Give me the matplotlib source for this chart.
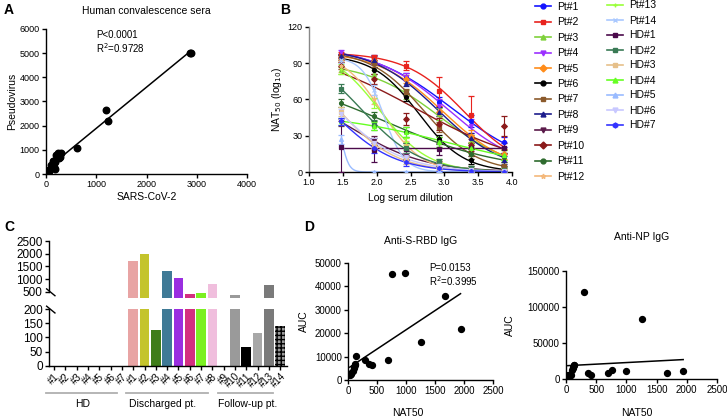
import numpy as np
import matplotlib
matplotlib.use('Agg')
import matplotlib.pyplot as plt
from matplotlib.lines import Line2D
import matplotlib.transforms as mtransforms

plt.rcParams['font.family'] = ['Liberation Sans', 'DejaVu Sans']
plt.rcParams['axes.linewidth'] = 1.0
plt.rcParams['xtick.direction'] = 'out'
plt.rcParams['ytick.direction'] = 'out'
plt.rcParams['xtick.major.size'] = 3
plt.rcParams['ytick.major.size'] = 3

# ---- panel A data: SARS-CoV-2 vs pseudovirus NAT50
sars_cov2 = [2870, 2880, 1200, 1230, 620, 300, 240, 200, 260, 180, 130, 160, 170, 100, 50, 40, 60, 30, 270, 150]
pseudovirus = [5020, 4990, 2660, 2210, 1080, 850, 870, 800, 650, 500, 520, 300, 200, 380, 150, 80, 120, 60, 720, 540]

# ---- panel B data: neutralization curves
log_dilution = [1.48, 1.96, 2.44, 2.92, 3.40, 3.88]
series_names = ['Pt#1', 'Pt#2', 'Pt#3', 'Pt#4', 'Pt#5', 'Pt#6', 'Pt#7', 'Pt#8', 'Pt#9', 'Pt#10',
                'Pt#11', 'Pt#12', 'Pt#13', 'Pt#14', 'HD#1', 'HD#2', 'HD#3', 'HD#4', 'HD#5', 'HD#6', 'HD#7']
series_means = [
    [96, 94, 79, 58, 42, 25],
    [97, 95, 88, 67, 47, 20],
    [84, 81, 64, 48, 26, 14],
    [99, 91, 79, 55, 38, 20],
    [94, 92, 77, 50, 30, 15],
    [95, 84, 62, 27, 10, 3],
    [95, 90, 66, 37, 15, 5],
    [96, 93, 74, 50, 28, 10],
    [41, 26, 13, 6, 3, 1],
    [88, 77, 44, 40, 22, 38],
    [57, 46, 33, 25, 15, 12],
    [88, 60, 22, 6, 2, 1],
    [85, 57, 25, 8, 3, 1],
    [93, 68, 10, 2, 1, 0],
    [21, 18, 19, 19, 20, 20],
    [69, 39, 20, 8, 3, 2],
    [50, 22, 10, 5, 2, 1],
    [42, 38, 33, 25, 20, 14],
    [27, 0, 0, 0, 0, 0],
    [48, 24, 12, 5, 2, 1],
    [42, 20, 8, 3, 1, 0],
]
series_errs = [
    [2, 3, 3, 4, 5, 4],
    [2, 2, 4, 12, 16, 18],
    [3, 3, 4, 5, 5, 4],
    [2, 2, 3, 5, 6, 5],
    [3, 2, 3, 4, 5, 4],
    [2, 3, 3, 4, 3, 2],
    [2, 3, 3, 4, 4, 3],
    [2, 3, 3, 4, 4, 3],
    [3, 4, 3, 3, 2, 2],
    [3, 4, 5, 5, 5, 8],
    [3, 4, 4, 4, 4, 4],
    [5, 4, 4, 3, 2, 2],
    [4, 4, 3, 3, 2, 2],
    [3, 4, 3, 2, 1, 1],
    [21, 10, 5, 5, 4, 4],
    [4, 4, 4, 3, 2, 2],
    [4, 4, 3, 3, 2, 2],
    [3, 3, 4, 4, 4, 4],
    [4, 1, 1, 1, 1, 1],
    [4, 4, 3, 2, 2, 1],
    [3, 4, 3, 2, 1, 1],
]
series_colors = ['#1414ff', '#e8231e', '#7fd13b', '#9b30ff', '#ff8c1a', '#000000', '#8b5a2b',
                 '#1c1c8c', '#5b1a4a', '#8b1a1a', '#2e6b2e', '#f4b87a', '#9aff3a', '#a9c8ff',
                 '#4b0a4b', '#3a7a55', '#e6c08a', '#66ff22', '#99bbff', '#c8c8ff', '#3333ff']
series_markers = ['o', 's', '^', 'v', 'D', 'o', 's', '^', 'v', 'D', 'o', '*', '+', 'x',
                  's', 's', 's', '^', '^', 'v', 'h']

# ---- panel C data: NAT50 bars
bar_labels = ['#1', '#2', '#3', '#4', '#5', '#6', '#7',
              '#1', '#2', '#3', '#4', '#5', '#6', '#7', '#8',
              '#9', '#10', '#11', '#12', '#13', '#14']
bar_values = [0, 0, 0, 0, 0, 0, 0,
              1720, 1985, 126, 1310, 1040, 410, 450, 810,
              0, 350, 65, 114, 760, 141]
bar_colors = ['#ffffff'] * 7 + ['#e8a4a4', '#c4c42c', '#3f7d1a', '#3f7a96', '#9a2ee0', '#d32f80',
                                '#7cf022', '#f0bedd', '#ffffff', '#9a9a9a', '#000000', '#a8a8a8',
                                '#7a7a7a', '#9a9a9a']
groups = ['HD', 'Discharged pt.', 'Follow-up pt.']

# ---- panel D data: NAT50 vs ELISA AUC
nat50 = [30, 50, 60, 80, 100, 110, 120, 125, 130, 300, 360, 410, 690, 760, 990, 1260, 1670, 1940]
auc_rbd = [2000, 2500, 3000, 4000, 5000, 5500, 6500, 7000, 10300, 8400, 6800, 6200, 8500,
           45500, 45700, 16200, 35800, 22000]
auc_np = [5500, 5500, 5500, 5500, 13000, 15000, 16000, 19000, 20000, 121000, 8000, 6000, 8000,
          12000, 10500, 83000, 8000, 10500]

W, H = 727, 419
fig = plt.figure(figsize=(W / 100, H / 100), dpi=100)


def px_axes(l, t, r, b):
    return fig.add_axes([l / W, 1 - b / H, (r - l) / W, (b - t) / H])


def style(ax, fs=6.5):
    ax.spines['top'].set_visible(False)
    ax.spines['right'].set_visible(False)
    ax.tick_params(labelsize=fs, width=1, length=3, pad=1.5)


# ================= A
axA = px_axes(46, 29, 247, 174)
style(axA)
axA.scatter(sars_cov2, pseudovirus, s=22, color='black', zorder=3)
k, b0 = np.polyfit(sars_cov2, pseudovirus, 1)
xx = np.array([min(sars_cov2), max(sars_cov2)])
axA.plot(xx, k * xx + b0, color='black', lw=1.1)
axA.set_xlim(0, 4000)
axA.set_ylim(0, 6000)
axA.set_xticks([0, 1000, 2000, 3000, 4000])
axA.set_yticks([0, 1000, 2000, 3000, 4000, 5000, 6000])
axA.set_xlabel('SARS-CoV-2', fontsize=7.5, labelpad=2)
axA.set_ylabel('Pseudovirus', fontsize=7.5, labelpad=2)
axA.set_title('Human convalescence sera', fontsize=7.5, pad=11)
axA.text(0.25, 0.99, 'P<0.0001\nR$^2$=0.9728', transform=axA.transAxes, fontsize=7,
         va='top', ha='left', linespacing=1.1)
fig.text(4 / W, 1 - 10 / H, 'A', fontsize=10, fontweight='bold', va='center')

# ================= B
axB = px_axes(309, 27, 512, 172)
style(axB)
axB.spines['left'].set_color('#888888')
xd = np.array(log_dilution)
tops = np.arange(10, 106, 1.0)[:, None, None]
cs = np.arange(1.0, 5.0, 0.02)[None, :, None]
hs = np.arange(0.0, 8.01, 0.1)[None, None, :]
xfine = np.linspace(xd[0], xd[-1], 200)
for name, ym, ye, col, mk in zip(series_names, series_means, series_errs, series_colors, series_markers):
    ym = np.array(ym, dtype=float)
    # crude least-squares fit of a logistic by grid search
    sse = np.zeros((tops.shape[0], cs.shape[1], hs.shape[2]))
    for xi, yi in zip(xd, ym):
        pred = tops / (1 + 10 ** ((xi - cs) * hs))
        sse += (pred - yi) ** 2
    i, j, m = np.unravel_index(np.argmin(sse), sse.shape)
    t, c, h = tops[i, 0, 0], cs[0, j, 0], hs[0, 0, m]
    axB.plot(xfine, t / (1 + 10 ** ((xfine - c) * h)), color=col, lw=1.0, zorder=2)
    axB.errorbar(xd, ym, yerr=ye, fmt=mk, color=col, ms=2.8, mew=0.9, elinewidth=0.8,
                 capsize=2.5, capthick=0.8, zorder=3)
axB.set_xlim(1.0, 4.0)
axB.set_ylim(0, 120)
axB.set_xticks([1.0, 1.5, 2.0, 2.5, 3.0, 3.5, 4.0])
axB.set_xticklabels(['1.0', '1.5', '2.0', '2.5', '3.0', '3.5', '4.0'])
axB.set_yticks([0, 30, 60, 90, 120])
axB.set_xlabel('Log serum dilution', fontsize=7.5, labelpad=4)
axB.set_ylabel('NAT$_{50}$ (log$_{10}$)', fontsize=7.5, labelpad=3)
fig.text(280 / W, 1 - 10 / H, 'B', fontsize=10, fontweight='bold', va='center')

handles = [Line2D([], [], color=c, marker=m, ms=3.5, lw=1.2) for c, m in zip(series_colors, series_markers)]
leg1 = fig.legend(handles[:12], series_names[:12], loc='upper left',
                  bbox_to_anchor=(535 / W, 1 - 2 / H), frameon=False, fontsize=7.5,
                  handlelength=1.5, handletextpad=0.6, labelspacing=0.52, borderaxespad=0, borderpad=0)
leg2 = fig.legend(handles[12:], series_names[12:], loc='upper left',
                  bbox_to_anchor=(607 / W, 1 - 0.5 / H), frameon=False, fontsize=7.5,
                  handlelength=1.5, handletextpad=0.6, labelspacing=0.48, borderaxespad=0, borderpad=0)

# ================= C (broken axis)
xpos = np.arange(len(bar_values))
axCt = px_axes(49, 241, 287, 298)
axCb = px_axes(49, 309, 287, 365.7)
for ax in (axCt, axCb):
    style(ax, fs=8.5)
    ax.bar(xpos, bar_values, width=0.86, color=bar_colors, edgecolor='none')
    ax.set_xlim(-0.45, 20.6)
# checkered pattern for follow-up #14
for ax in (axCt, axCb):
    ax.bar(xpos[-1:], bar_values[-1:], width=0.86, color='#9a9a9a', edgecolor='black',
           hatch='++++', linewidth=0)
axCt.set_ylim(250, 2500)
axCt.set_yticks([500, 1000, 1500, 2000, 2500])
axCt.spines['bottom'].set_visible(False)
axCt.spines['left'].set_bounds(500, 2500)
axCt.tick_params(axis='x', bottom=False, labelbottom=False)
axCb.set_ylim(0, 200)
axCb.set_yticks([0, 50, 100, 150, 200])
axCb.set_xticks(xpos)
axCb.set_xticklabels(bar_labels, rotation=45, ha='right', rotation_mode='anchor', fontsize=7)
axCb.tick_params(axis='x', pad=1)
# break marks
axCt.plot([-0.01, 0.025], [0.16, 0.04], transform=axCt.transAxes, color='black', lw=1, clip_on=False)
axCb.plot([-0.01, 0.025], [1.05, 0.93], transform=axCb.transAxes, color='black', lw=1, clip_on=False)
trans = mtransforms.blended_transform_factory(axCb.transData, axCb.transAxes)
group_spans = [(-0.7, 5.6), (6.4, 13.6), (14.5, 19.4)]
group_text_x = [2.55, 9.6, 17.1]
for g, (a, bb), tx in zip(groups, group_spans, group_text_x):
    axCb.plot([a, bb], [-0.48, -0.48], transform=trans, color='#b0b0b0', lw=1.3, clip_on=False)
    axCb.text(tx, -0.68, g, transform=trans, fontsize=7.5, ha='center', va='center')
fig.text(4 / W, 1 - 227 / H, 'C', fontsize=10, fontweight='bold', va='center')

# ================= D
axD1 = px_axes(348, 263, 493, 380)
style(axD1, fs=7)
axD1.scatter(nat50, auc_rbd, s=18, color='black', zorder=3)
k1, b1 = np.polyfit(nat50, auc_rbd, 1)
xx = np.array([min(nat50), max(nat50)])
axD1.plot(xx, k1 * xx + b1, color='black', lw=1.1)
axD1.set_xlim(0, 2500)
axD1.set_ylim(0, 50000)
axD1.set_xticks([0, 500, 1000, 1500, 2000, 2500])
axD1.set_yticks([0, 10000, 20000, 30000, 40000, 50000])
axD1.set_title('Anti-S-RBD IgG', fontsize=7.5, pad=14)
axD1.set_xlabel('NAT50', fontsize=7.5, labelpad=8)
axD1.xaxis.set_label_coords(0.41, -0.24)
axD1.set_ylabel('AUC', fontsize=7.5, labelpad=4)
axD1.text(0.56, 1.0, 'P=0.0153\nR$^2$=0.3995', transform=axD1.transAxes, fontsize=7,
          va='top', ha='left', linespacing=1.1)
fig.text(304 / W, 1 - 227 / H, 'D', fontsize=10, fontweight='bold', va='center')

axD2 = px_axes(566, 271, 717, 379)
style(axD2, fs=7)
axD2.scatter(nat50, auc_np, s=18, color='black', zorder=3)
k2, b2 = np.polyfit(nat50, auc_np, 1)
axD2.plot(xx, k2 * xx + b2, color='black', lw=1.1)
axD2.set_xlim(0, 2500)
axD2.set_ylim(0, 150000)
axD2.set_xticks([0, 500, 1000, 1500, 2000, 2500])
axD2.set_yticks([0, 50000, 100000, 150000])
axD2.set_title('Anti-NP IgG', fontsize=7.5, pad=22)
axD2.set_xlabel('NAT50', fontsize=7.5)
axD2.xaxis.set_label_coords(0.47, -0.27)
axD2.set_ylabel('AUC', fontsize=7.5, labelpad=9)

fig.savefig('out.png', dpi=100)
